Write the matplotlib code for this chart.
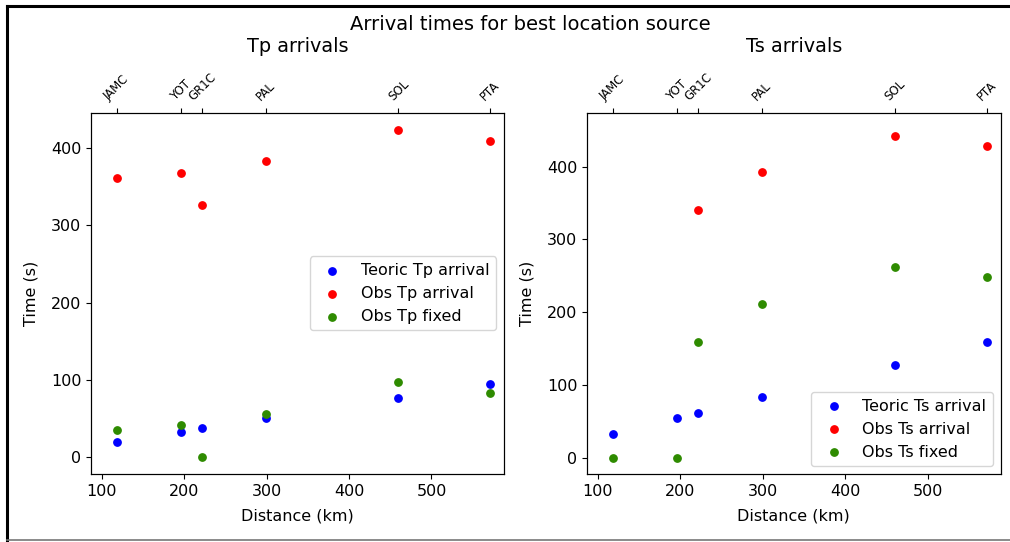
import matplotlib
matplotlib.use("Agg")
import matplotlib.pyplot as plt
from matplotlib.lines import Line2D
import numpy as np

stations = ["JAMC", "YOT", "GR1C", "PAL", "SOL", "PTA"]
distance = [118, 196, 222, 299, 460, 571]

tp_teoric = [20, 33, 38, 50, 77, 95]
tp_obs = [361, 368, 327, 383, 424, 410]
tp_fixed = [35, 41, 0, 56, 97, 83]

ts_teoric = [33, 55, 62, 84, 128, 159]
ts_obs = [np.nan, np.nan, 341, 392, 442, 429]
ts_fixed = [0, 0, 159, 212, 262, 248]

GREEN = "#2e8b00"
FS = 11.5

fig = plt.figure(figsize=(10.10, 5.42), dpi=100)
fig.suptitle("Arrival times for best location source", fontsize=14, x=0.525, y=0.972)

ax1 = fig.add_axes([0.0901, 0.1255, 0.4089, 0.6665])
ax2 = fig.add_axes([0.5812, 0.1255, 0.4096, 0.6665])

panels = [
    (ax1, "Tp", tp_teoric, tp_obs, tp_fixed, "center right"),
    (ax2, "Ts", ts_teoric, ts_obs, ts_fixed, "lower right"),
]

for ax, ph, teo, obs, fix, loc in panels:
    ax.scatter(distance, teo, s=28, color="blue", label=f"Teoric {ph} arrival")
    ax.scatter(distance, obs, s=28, color="red", label=f"Obs {ph} arrival")
    ax.scatter(distance, fix, s=28, color=GREEN, label=f"Obs {ph} fixed")
    ax.set_xlabel("Distance (km)", fontsize=FS, labelpad=7)
    ax.set_ylabel("Time (s)", fontsize=FS, labelpad=9)
    ax.tick_params(labelsize=FS)
    ax.set_xlim(87, 588)
    ax.legend(loc=loc, fontsize=FS)
    top = ax.twiny()
    top.set_xlim(ax.get_xlim())
    top.set_xticks(distance)
    top.set_xticklabels(stations, rotation=45, fontsize=8.5)
    top.set_title(f"{ph} arrivals", fontsize=13.9, pad=13)

ax1.set_ylim(-22, 446)
ax1.set_yticks([0, 100, 200, 300, 400])
ax2.set_ylim(-22, 474)
ax2.set_yticks([0, 100, 200, 300, 400])

# screenshot frame
fig.add_artist(Line2D([0.007, 0.007], [0.0, 0.989], color="black", lw=2.2, transform=fig.transFigure))
fig.add_artist(Line2D([0.007, 1.0], [0.989, 0.989], color="black", lw=2.2, transform=fig.transFigure))
fig.add_artist(Line2D([0.007, 1.0], [0.004, 0.004], color="#777777", lw=1.2, transform=fig.transFigure))

fig.savefig("out.png", dpi=100)
